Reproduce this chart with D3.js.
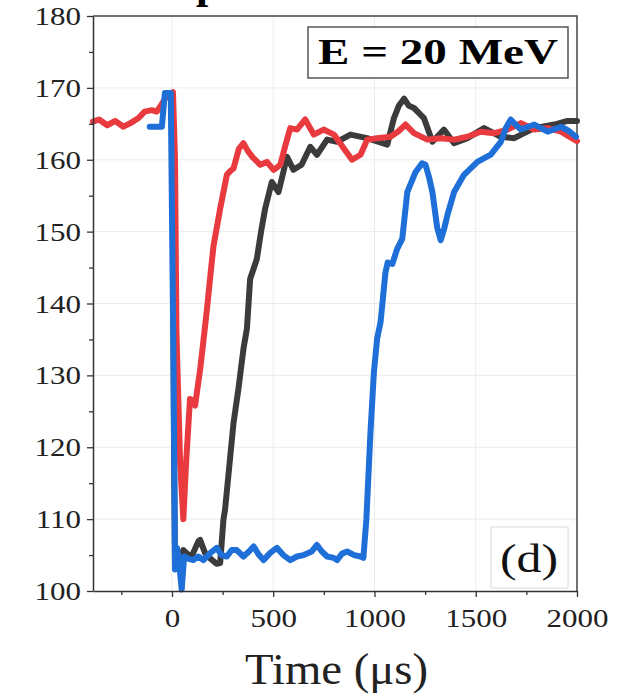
<!DOCTYPE html>
<html>
<head>
<meta charset="utf-8">
<script src="https://cdn.jsdelivr.net/npm/d3@7"></script>
<style>
  body { margin: 0; background: #fff; }
  svg { display: block; }
  .serif { font-family: "Liberation Serif", "Times New Roman", serif; }
</style>
</head>
<body>
<svg id="chart" width="618" height="695"></svg>
<script>
// Traces: [time in us, value]
var redTrace = [[-390,165.3],[-360,165.6],[-320,164.8],[-280,165.4],[-240,164.6],[-205,165.1],
  [-165,165.8],[-135,166.7],[-100,166.9],[-75,166.7],[-55,167.5],[-35,168.5],[-15,169.0],[5,169.4],
  [15,160],[22,136],[40,118],[56,110],[70,118],[89,126.7],[105,126.5],[114,125.8],[140,131],
  [160,136],[172,139],[190,144],[205,148],[238,153.2],[271,157.9],[290,158.5],[304,158.8],
  [330,161.5],[353,162.3],[375,161.2],[400,160.3],[436,159.3],[469,159.7],[502,158.6],[535,159.3],
  [560,162],[584,164.4],[617,164.2],[658,165.6],[700,163.5],[749,164.2],[800,163.5],[848,161.6],
  [889,160],[931,160.7],[964,162.8],[1013,163],[1079,163.2],[1120,164],[1153,164.9],[1195,163.7],
  [1261,162.8],[1327,163],[1393,162.8],[1459,163.2],[1525,163.9],[1591,163.7],[1657,164.2],
  [1723,165.1],[1789,164.2],[1855,164.4],[1921,163.9],[1987,162.8],[2000,162.6]];

var blackTrace = [[2,165],[10,120],[15,103.2],[30,104],[56,105.7],[89,104.8],[105,105.3],[130,106.9],
  [139,107.1],[163,105.3],[190,104.5],[220,103.8],[238,103.9],[254,109.9],[262,111.3],[287,118.5],
  [304,123.4],[328,128.1],[353,133.7],[370,136.5],[386,143.4],[419,146.2],[440,150],[460,153.2],
  [493,156.9],[526,155.5],[568,160.4],[600,158.6],[640,159.3],[683,161.8],[716,160.7],[766,162.8],
  [815,162.5],[881,163.5],[964,163],[1063,162.1],[1080,164],[1096,165.8],[1120,167.5],[1146,168.5],
  [1170,167.5],[1195,167.2],[1220,166.5],[1244,165.8],[1286,162.5],[1343,164.2],[1393,162.3],
  [1459,163],[1541,164.4],[1624,163.2],[1690,163],[1789,164.4],[1888,164.9],[1953,165.4],[2000,165.4]];

var blueTrace = [[-110,164.6],[-50,164.6],[-35,169.3],[-6,169.3],[8,130],[15,103],[25,106],[35,104],
  [48,100.2],[60,104.8],[80,104.5],[105,104.3],[130,104.8],[155,104.3],[190,105.3],[221,106],
  [245,105],[271,104.8],[295,105.7],[320,105.7],[353,104.8],[380,105.5],[403,106.2],[430,105],
  [452,104.3],[485,105.3],[518,106],[550,105],[584,104.3],[617,104.8],[650,105],[690,105.5],
  [716,106.4],[740,105.5],[766,104.8],[799,104.6],[815,104.3],[840,105.2],[865,105.5],[900,105],
  [931,104.8],[945,104.6],[960,110],[980,122],[997,130.4],[1013,135.1],[1030,137.4],[1054,144.3],
  [1065,145.7],[1088,145.5],[1112,147.6],[1137,149],[1162,155.5],[1203,158.3],[1235,159.5],
  [1252,159.3],[1270,157.5],[1286,155.5],[1310,150.5],[1327,148.8],[1345,150.5],[1360,152.3],
  [1393,155.5],[1442,157.9],[1508,159.7],[1574,160.7],[1624,162.5],[1650,164.5],[1673,165.6],
  [1700,164.8],[1723,164.2],[1789,164.9],[1855,163.9],[1921,164.6],[1960,164],[1995,163.2]];

var xMajor = [0, 500, 1000, 1500, 2000];
var xMinor = [-250, 250, 750, 1250, 1750];
var yMajor = [100, 110, 120, 130, 140, 150, 160, 170, 180];
var yMinor = [105, 115, 125, 135, 145, 155, 165, 175];

var legendText = "E = 20 MeV";
var panelText = "(d)";
var xTitle = "Time (\u03bcs)";

var svg = d3.select("#chart");

var x = d3.scaleLinear().domain([-390, 2000]).range([93, 577]);
var y = d3.scaleLinear().domain([100, 180]).range([591, 16]);

// cut-off title above the panel
svg.append("text")
  .attr("class", "serif")
  .attr("x", 196).attr("y", -2)
  .style("font-size", "44px").style("font-weight", "bold")
  .text("p");

// grid
var grid = svg.append("g");
grid.selectAll(".gx").data(xMajor.slice(0, 4)).enter().append("line")
  .attr("x1", function(d) { return x(d); }).attr("x2", function(d) { return x(d); })
  .attr("y1", y(100)).attr("y2", y(180))
  .attr("stroke", "#ececec").attr("stroke-width", 1);
grid.selectAll(".gy").data(yMajor.slice(1, 8)).enter().append("line")
  .attr("x1", x(-390)).attr("x2", x(2000))
  .attr("y1", function(d) { return y(d); }).attr("y2", function(d) { return y(d); })
  .attr("stroke", "#ececec").attr("stroke-width", 1);

// frame top and right
svg.append("path")
  .attr("d", "M" + x(-390) + "," + y(180) + "H" + x(2000) + "V" + y(100))
  .attr("fill", "none").attr("stroke", "#444").attr("stroke-width", 1.5);

// lines
var line = d3.line()
  .x(function(d) { return x(d[0]); })
  .y(function(d) { return y(d[1]); })
  .curve(d3.curveLinear);

var series = [
  {data: blackTrace, color: "#3b3b3b"},
  {data: redTrace, color: "#e83a3f"},
  {data: blueTrace, color: "#1f6fd8"}
];

svg.append("g").selectAll("path").data(series).enter().append("path")
  .attr("d", function(d) { return line(d.data); })
  .attr("fill", "none")
  .attr("stroke", function(d) { return d.color; })
  .attr("stroke-width", 6)
  .attr("stroke-linejoin", "round")
  .attr("stroke-linecap", "round");

// axes
var xAxis = svg.append("g").attr("transform", "translate(0," + y(100) + ")")
  .call(d3.axisBottom(x).tickValues(xMajor).tickSize(6).tickSizeOuter(0).tickFormat(d3.format("d")));
svg.append("g").attr("transform", "translate(0," + y(100) + ")")
  .call(d3.axisBottom(x).tickValues(xMinor).tickSize(4).tickSizeOuter(0).tickFormat(""))
  .select(".domain").remove();

var yAxis = svg.append("g").attr("transform", "translate(" + x(-390) + ",0)")
  .call(d3.axisLeft(y).tickValues(yMajor).tickSize(6).tickSizeOuter(0).tickFormat(d3.format("d")));
svg.append("g").attr("transform", "translate(" + x(-390) + ",0)")
  .call(d3.axisLeft(y).tickValues(yMinor).tickSize(4).tickSizeOuter(0).tickFormat(""))
  .select(".domain").remove();

svg.selectAll(".domain").attr("stroke", "#333").attr("stroke-width", 1.5);
svg.selectAll(".tick line").attr("stroke", "#333").attr("stroke-width", 1.3);

xAxis.selectAll(".tick text")
  .attr("class", "serif")
  .attr("y", 0).attr("dy", 0)
  .attr("transform", "translate(0,36) scale(1.24,1)")
  .style("font-size", "25px").attr("fill", "#222");

yAxis.selectAll(".tick text")
  .attr("class", "serif")
  .attr("x", 0).attr("dy", "0.34em")
  .attr("transform", "translate(-12,0) scale(1.24,1)")
  .style("font-size", "25px").attr("fill", "#222");

// legend box
svg.append("rect")
  .attr("x", 308).attr("y", 27).attr("width", 260).attr("height", 51)
  .attr("fill", "#fff").attr("stroke", "#555").attr("stroke-width", 1.5);
svg.append("text")
  .attr("class", "serif")
  .attr("x", 318).attr("y", 64)
  .attr("textLength", 240).attr("lengthAdjust", "spacingAndGlyphs")
  .style("font-size", "36px").style("font-weight", "bold")
  .text(legendText);

// panel label
svg.append("rect")
  .attr("x", 491).attr("y", 527).attr("width", 77).attr("height", 61)
  .attr("fill", "#fff").attr("stroke", "#d8d8d8").attr("stroke-width", 1);
svg.append("text")
  .attr("class", "serif")
  .attr("x", 500).attr("y", 572)
  .attr("textLength", 58).attr("lengthAdjust", "spacingAndGlyphs")
  .style("font-size", "40px").attr("fill", "#111")
  .text(panelText);

// axis title
svg.append("text")
  .attr("class", "serif")
  .attr("x", 245).attr("y", 684)
  .attr("textLength", 183).attr("lengthAdjust", "spacingAndGlyphs")
  .style("font-size", "44px").attr("fill", "#222")
  .text(xTitle);
</script>
</body>
</html>
